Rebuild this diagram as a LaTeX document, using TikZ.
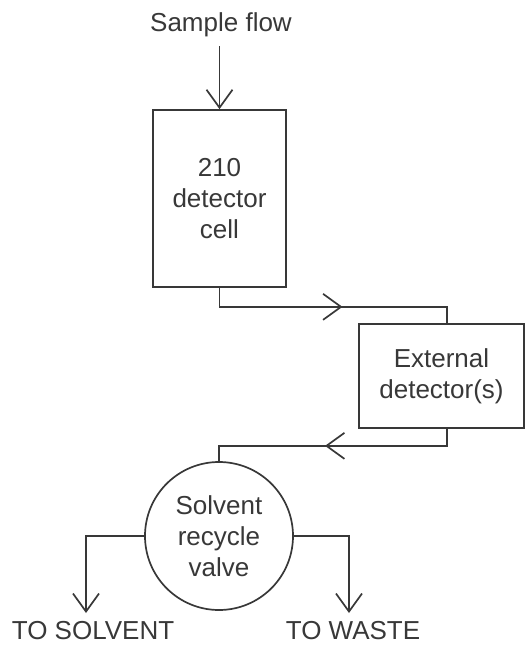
\documentclass[tikz,border=0pt]{standalone}
\usepackage{fontspec}
\setmainfont{Liberation Sans}
\usetikzlibrary{arrows.meta,decorations.markings}
\definecolor{ink}{gray}{0.22}
\def\tip{Straight Barb[length=18pt,width=26pt]}
\def\outcon{west/solvent, east/waste}
\tikzstyle{label-text}=[text=ink,font=\fontsize{26pt}{31pt}\selectfont,inner sep=0pt]
\tikzstyle{txt}=[label-text,align=center]
\tikzstyle{box}=[txt,draw=ink,line width=1.7pt,rectangle]
\tikzstyle{valve-node}=[txt,draw=ink,line width=1.7pt,circle,minimum size=148pt]
\tikzstyle{flow}=[draw=ink,line width=1.7pt,-{\tip}]
\tikzstyle{pipe}=[draw=ink,line width=1.7pt,-]
\tikzset{midarrow/.style={postaction={decorate},
  decoration={markings,mark=at position #1 with {\arrow[ink,line width=1.7pt]{\tip}}}}}

\begin{document}
\begin{tikzpicture}[x=1pt,y=-1pt]
  \useasboundingbox (0,0) rectangle (528,645);

  % Nodes
  \node[txt] (sample) at (221,25) {Sample flow};
  \node[box,minimum width=133pt,minimum height=177pt] (cell) at (219.5,198.5) {210\\detector\\cell};
  \node[box,minimum width=165pt,minimum height=104pt] (ext) at (441.5,376) {External\\detector(s)};
  \node[valve-node] (valve) at (219,536) {Solvent\\recycle\\valve};

  \node[label-text,anchor=base] (solvent-text) at (93,639) {TO SOLVENT};
  \node[label-text,anchor=base] (waste-text) at (353,639) {TO WASTE};

  % Flow lines
  \path[flow,shorten <=9pt] (sample.south -| cell.north) -- (cell.north);

  \path[pipe,midarrow=142pt] (cell.south) -- ++(0,19) -| ([xshift=5.5pt]ext.north);
  \path[pipe,midarrow=139pt] ([xshift=5.5pt]ext.south) -- ++(0,17) -| (valve.north);

  % Outlets
  \coordinate (solvent) at (86,613);
  \coordinate (waste) at (349,613);
  \foreach \side/\dest in \outcon
    \path[flow] (valve.\side) -| (\dest);
\end{tikzpicture}
\end{document}
